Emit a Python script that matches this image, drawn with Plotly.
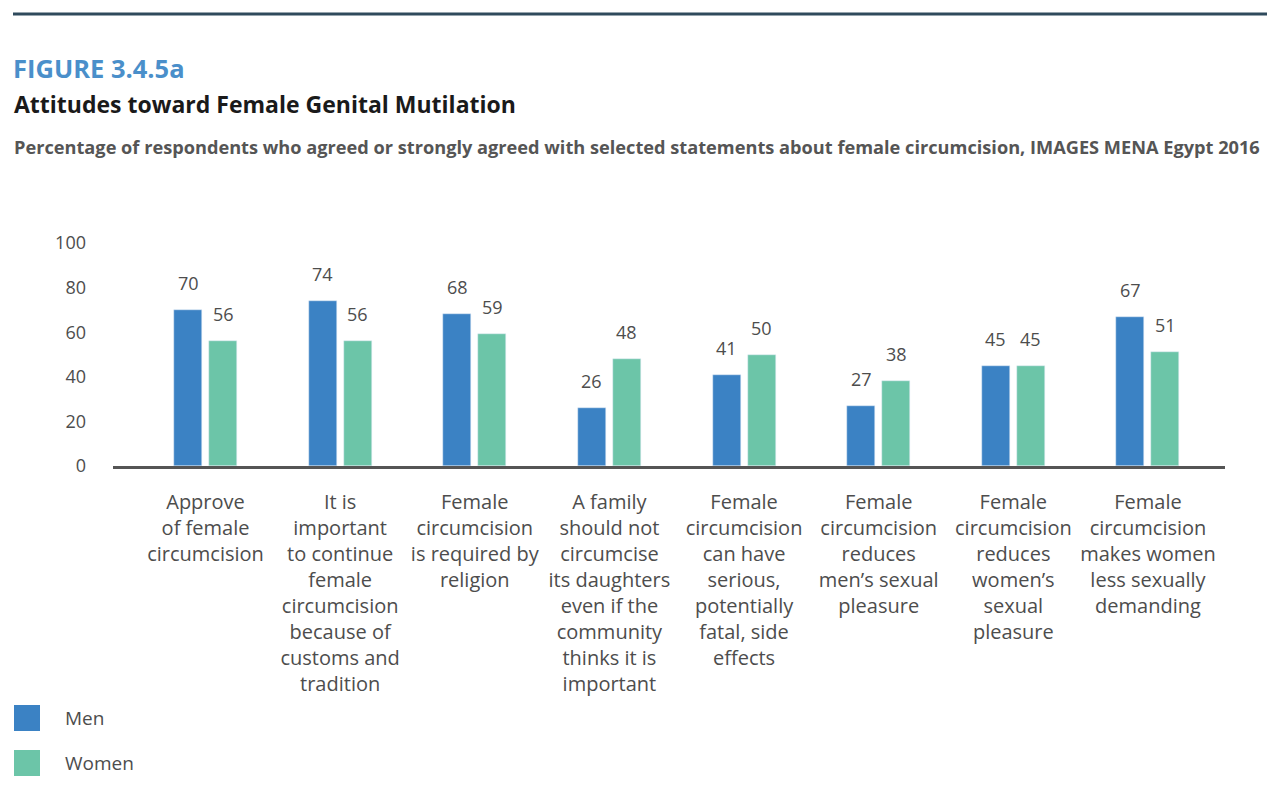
import plotly.graph_objects as go

categories = [
    "Approve<br>of female<br>circumcision",
    "It is<br>important<br>to continue<br>female<br>circumcision<br>because of<br>customs and<br>tradition",
    "Female<br>circumcision<br>is required by<br>religion",
    "A family<br>should not<br>circumcise<br>its daughters<br>even if the<br>community<br>thinks it is<br>important",
    "Female<br>circumcision<br>can have<br>serious,<br>potentially<br>fatal, side<br>effects",
    "Female<br>circumcision<br>reduces<br>men\u2019s sexual<br>pleasure",
    "Female<br>circumcision<br>reduces<br>women\u2019s<br>sexual<br>pleasure",
    "Female<br>circumcision<br>makes women<br>less sexually<br>demanding",
]
men = [70, 74, 68, 26, 41, 27, 45, 67]
women = [56, 56, 59, 48, 50, 38, 45, 51]
series_names = ["Men", "Women"]
y_ticks = [0, 20, 40, 60, 80, 100]

MEN_C = "#3b82c4"
WOMEN_C = "#6cc5a8"
GRAY = "#4d4d4d"
FONT = "Open Sans"

idx = list(range(len(categories)))
BW = 0.208

fig = go.Figure()
fig.add_trace(go.Bar(x=idx, y=men, name=series_names[0], marker_color=MEN_C,
                     width=BW, offset=-0.234, showlegend=False))
fig.add_trace(go.Bar(x=idx, y=women, name=series_names[1], marker_color=WOMEN_C,
                     width=BW, offset=0.026, showlegend=False))

annotations = []
for i, (m, w) in enumerate(zip(men, women)):
    annotations.append(dict(x=i - 0.13, y=m, xref="x", yref="y", text=str(m),
                            showarrow=False, yshift=27, yanchor="middle",
                            font=dict(family=FONT, size=18, color=GRAY)))
    annotations.append(dict(x=i + 0.13, y=w, xref="x", yref="y", text=str(w),
                            showarrow=False, yshift=27, yanchor="middle",
                            font=dict(family=FONT, size=18, color=GRAY)))

# page offset (body margin) in screen pixels
OFF = 8
W, H = 1280, 797

# screen-pixel helpers: (x, y from top)
paper_items = []
paper_items.append(dict(x=11, y=68, text="<b>FIGURE 3.4.5a</b>", size=25.5, color="#4a8fca"))
paper_items.append(dict(x=12, y=104, text="<b>Attitudes toward Female Genital Mutilation</b>",
                        size=23, color="#1a1a1a"))
paper_items.append(dict(x=12, y=147,
                        text="<b>Percentage of respondents who agreed or strongly agreed with selected statements about female circumcision, IMAGES MENA Egypt 2016</b>",
                        size=18.2, color="#555555"))

legend_items = [(series_names[0], MEN_C, 718), (series_names[1], WOMEN_C, 763)]
for name, col, yc in legend_items:
    paper_items.append(dict(x=63, y=yc, text=name, size=19, color=GRAY))

# plot area in screen pixels
SX0, SX1, SY_TOP, SY_BOT = 113, 1225, 243, 466
L = SX0 - OFF
R = W - (SX1 - OFF)
T = SY_TOP - OFF
B = H - (SY_BOT - OFF)
pw, ph = W - L - R, H - T - B


def px(xs):
    return (xs - OFF - L) / pw


def py(ys):
    return ((H - (ys - OFF)) - B) / ph


for it in paper_items:
    annotations.append(dict(x=px(it["x"]), y=py(it["y"]), xref="paper", yref="paper",
                            text=it["text"], showarrow=False, xanchor="left", yanchor="middle",
                            font=dict(family=FONT, size=it["size"], color=it["color"])))

shapes = [dict(type="line", xref="paper", yref="paper", x0=px(13), x1=px(1267),
               y0=py(14), y1=py(14), line=dict(color="#2f4a5c", width=3))]
for name, col, yc in legend_items:
    shapes.append(dict(type="rect", xref="paper", yref="paper", x0=px(14), x1=px(40),
                       y0=py(yc + 13), y1=py(yc - 13), fillcolor=col, line=dict(width=0)))

fig.update_layout(
    width=W, height=H,
    margin=dict(l=L, r=R, t=T, b=B),
    paper_bgcolor="white", plot_bgcolor="white",
    annotations=annotations, shapes=shapes,
    showlegend=False,
    xaxis=dict(range=[-0.687, 7.572], tickmode="array", tickvals=idx, ticktext=categories,
               showline=True, linecolor="#555555", linewidth=3, showgrid=False, zeroline=False,
               ticks="", tickfont=dict(family=FONT, size=20, color=GRAY), tickangle=0,
               ticklabelstandoff=16, fixedrange=True),
    yaxis=dict(range=[0, 100], tickmode="array", tickvals=y_ticks, showgrid=False,
               zeroline=False, showline=False, ticks="",
               tickfont=dict(family=FONT, size=18, color=GRAY), ticklabelstandoff=26,
               fixedrange=True),
    bargap=0,
)

fig.write_html("out.html")
